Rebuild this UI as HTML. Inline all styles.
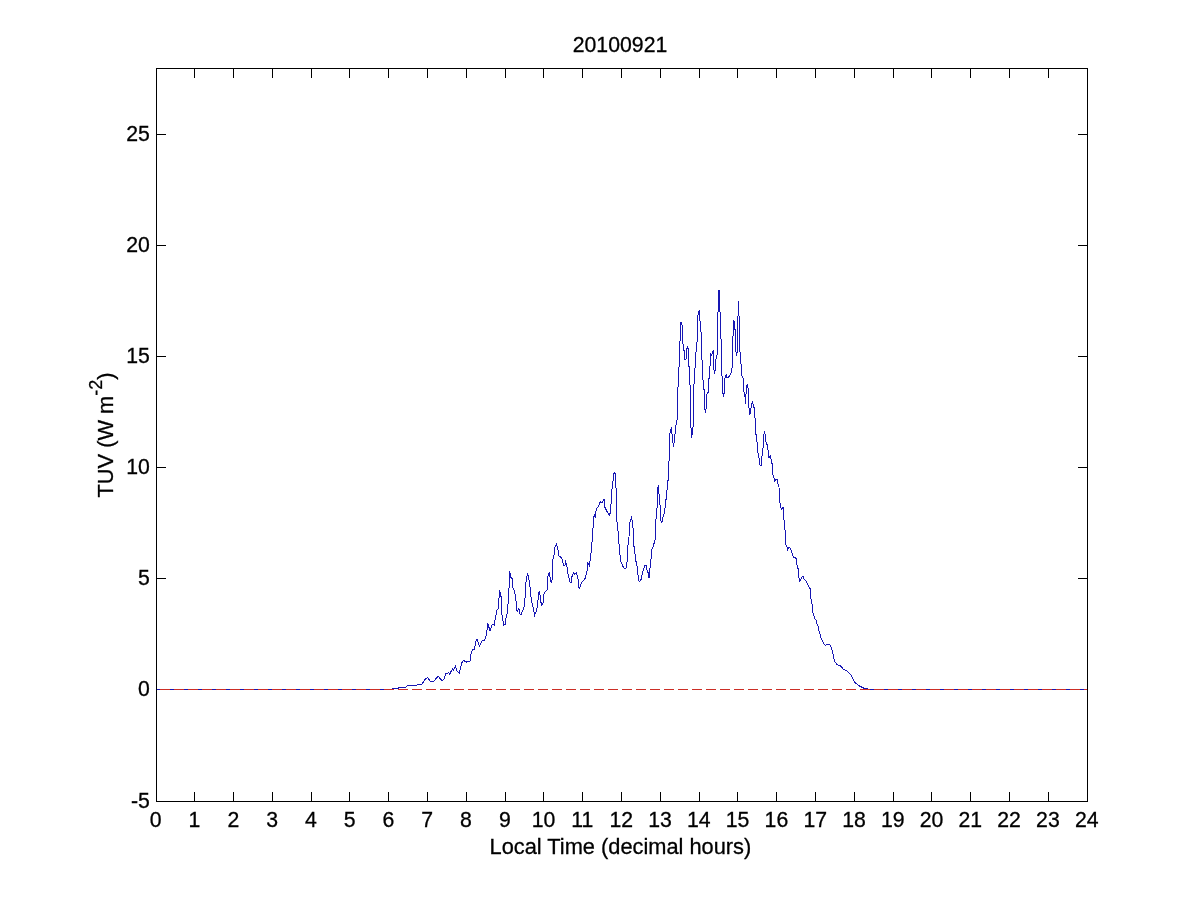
<!DOCTYPE html>
<html><head><meta charset="utf-8"><title>20100921</title>
<style>
html,body{margin:0;padding:0;background:#fff;}
svg{display:block;}
text{font-family:"Liberation Sans",Arial,Helvetica,sans-serif;font-size:21.8px;fill:#000;stroke:#000;stroke-width:0.3px;}
</style></head><body>
<svg width="1201" height="900" viewBox="0 0 1201 900">
<rect width="1201" height="900" fill="#fff"/>
<g fill="none" stroke="#000" stroke-width="1" shape-rendering="crispEdges">
<rect x="156.5" y="68.5" width="931.0" height="733.0"/>
<path d="M194.5 802V792M194.5 68V78M233.5 802V792M233.5 68V78M272.5 802V792M272.5 68V78M311.5 802V792M311.5 68V78M349.5 802V792M349.5 68V78M388.5 802V792M388.5 68V78M427.5 802V792M427.5 68V78M466.5 802V792M466.5 68V78M505.5 802V792M505.5 68V78M543.5 802V792M543.5 68V78M582.5 802V792M582.5 68V78M621.5 802V792M621.5 68V78M660.5 802V792M660.5 68V78M699.5 802V792M699.5 68V78M737.5 802V792M737.5 68V78M776.5 802V792M776.5 68V78M815.5 802V792M815.5 68V78M854.5 802V792M854.5 68V78M893.5 802V792M893.5 68V78M931.5 802V792M931.5 68V78M970.5 802V792M970.5 68V78M1009.5 802V792M1009.5 68V78M1048.5 802V792M1048.5 68V78M156 689.5H166M1088 689.5H1078M156 578.5H166M1088 578.5H1078M156 467.5H166M1088 467.5H1078M156 356.5H166M1088 356.5H1078M156 245.5H166M1088 245.5H1078M156 134.5H166M1088 134.5H1078"/>
</g>
<g fill="none" stroke="#1616b4" stroke-width="1" shape-rendering="crispEdges" stroke-linejoin="miter">
<path d="M157 689.5H392M868 689.5H1087"/>
<path d="M392 689.5 L392.5 688.5 L398 688.5 L398.75 687.5 L405.5 687.5 L407.5 685.5 L416.25 685.5 L417.5 684.5 L421.7 684.5 L424.6 680 L427.5 677.3 L430.4 681.25 L433.3 681.5 L438.3 676.25 L441.7 680.4 L443.75 679.6 L445.8 673.75 L448.75 672.7 L449.6 674.2 L452.5 668.75 L453.3 670 L455.4 666.25 L456.7 670.8 L459.2 672.9 L462.1 662.1 L463.3 660.4 L466.7 662.1 L470 661.25 L471.25 652.5 L472.5 649.6 L474.2 649.6 L476.25 639.6 L477.1 639.6 L479.6 646.25 L482.3 640 L484 641 L485.5 638.5 L486.7 633 L487.9 623.3 L490 631.25 L492.1 624.6 L494.2 625 L496.7 610.8 L498.3 608.3 L499.6 590.4 L501.25 597.5 L501.7 613.3 L503.75 625 L505.4 624.6 L505.8 619.2 L507.5 612.5 L508.3 599.2 L509.2 585 L509.8 571.25 L510.8 577.5 L512.5 579.2 L512.9 587.5 L514.6 591.7 L516.7 605 L517.1 612 L518.75 608.3 L520 614.2 L521.25 614.2 L524.6 605.8 L525.8 583.3 L527.5 573.3 L529.2 580.4 L530.4 590.4 L531.25 599.2 L532.9 606.7 L534.6 615.4 L536.7 610 L537.9 601.25 L538.75 592.5 L539.6 591.7 L540.8 601.7 L541.7 605 L543.3 602.9 L543.75 594.2 L545.4 591.25 L547.5 589.6 L547.9 576.7 L549.2 572.5 L551.25 583 L552.5 577.5 L552.9 559.2 L554.6 553.3 L555 546.7 L556.4 544.3 L557.5 546.7 L558.75 555.8 L561.7 557.9 L563.75 565.4 L565 565.4 L565.4 561.25 L566.7 564.2 L567.9 573.3 L570 582.1 L571.25 582.1 L572.1 575.8 L573.75 572.5 L574.6 574.2 L576.25 572.5 L577.9 577.5 L578.75 587.5 L579.6 588.75 L580.4 585 L581.7 582.1 L585.4 578.3 L587.5 568.3 L587.9 562.5 L589.2 565.4 L589.6 561.7 L590.4 560.8 L590.8 553.3 L591.7 551.7 L592.1 540 L592.9 532.5 L593.3 517.5 L594.6 514.6 L595.4 518.3 L596.25 508.3 L597.9 507.5 L600.4 501.7 L602.1 502.5 L603.75 499.2 L604.6 500 L605 507.5 L607.1 511.7 L609.2 515.4 L610.4 512.5 L610.8 507.5 L611.7 491.7 L612.9 482.5 L613.75 473.75 L614.6 472.5 L615.7 473.75 L615.8 487.5 L616.7 488.75 L616.9 520 L617.5 529.2 L618.3 531.7 L618.75 541.7 L619.6 550 L620.4 560.4 L621.7 563.75 L623.75 567.9 L625 568.75 L626.4 567.5 L627.1 560.8 L627.5 546.7 L628.5 543.3 L629 536.7 L629.6 523.3 L630.4 520.8 L631.5 517.5 L632.1 520 L632.7 527.5 L633.5 529.2 L633.75 545.8 L634.6 548.3 L635.4 558.3 L636.7 565 L637.5 568.3 L638.3 578.3 L639.2 581.7 L641.25 579.2 L642.5 572.5 L645 565.4 L646.25 565.4 L646.7 569.2 L648.3 573.3 L648.75 577.5 L649.6 577.5 L649.8 569.2 L650.8 562.5 L651.5 550.8 L653.3 545.8 L655.4 539.2 L655.8 521.7 L656.7 508.3 L657.5 507.5 L657.7 488.3 L658.5 485 L658.75 493.3 L659.6 495 L660 505 L660.8 506.7 L661 520.8 L661.7 522.5 L662.5 521.7 L662.9 517.5 L664.6 511.7 L665.8 500 L666.7 498.3 L667.1 488.3 L667.9 480.8 L668.75 480 L668.9 461.7 L669.2 460 L669.6 435.4 L670.4 430 L671.25 428.3 L672.1 435 L673.5 446.7 L674.6 438.3 L675.8 425.8 L677.1 419.6 L677.5 395 L678.75 375.8 L679.8 341 L680.6 340.4 L680.6 322.3 L681.6 322.3 L682.1 325.8 L682.5 343.3 L683.5 344.6 L684.2 352.5 L684.5 359.5 L685.5 359.5 L686.5 358 L686.5 349.2 L687.5 347.3 L688.5 349.6 L688.5 365.8 L689.6 367.5 L689.75 384.6 L690.8 385.8 L690.8 423.3 L691.4 437.5 L692.5 433 L693.5 420.8 L693.5 384.2 L694.6 383.3 L694.8 371.7 L695.8 355 L696.7 342.1 L697.5 341.25 L697.7 316.25 L698.75 311.25 L699.6 310.2 L699.75 320.8 L700.8 322.5 L701 332.1 L701.6 332.9 L701.6 359.6 L702.5 360.8 L702.9 380 L703.5 381.7 L703.5 389 L704.5 389.5 L704.5 409 L705.5 410 L705.5 412.5 L705.5 409.5 L706.5 408.5 L706.5 394.5 L707.5 393.5 L708.5 391.7 L708.5 379.2 L709.5 378 L709.5 366.5 L710.5 365.5 L710.5 353.75 L711.5 355 L712.5 352.5 L713.5 350.2 L713.5 369.5 L714.5 370.5 L714.5 373.5 L714.5 370.5 L715.5 370 L715.5 359.6 L716.5 358.5 L716.5 355.5 L717.5 354.5 L717.5 312.5 L718.4 311.7 L718.4 290.3 L719.8 290.3 L719.9 312.1 L720.7 313.3 L720.8 338.75 L721.8 340 L721.9 374.2 L722.5 381.7 L722.5 393 L723.5 393.5 L723.5 396.7 L723.5 394 L724.5 393.5 L724.5 379.2 L725.8 375.8 L726.7 375 L726.7 377.5 L728.3 377.5 L730.8 374.2 L731.7 368.3 L732.5 366.7 L732.6 336.7 L733.3 335.4 L733.5 320.4 L734.6 322.5 L734.8 329.2 L735.8 330 L735.8 351.7 L736.7 354.5 L737.5 351 L737.5 316.25 L738.3 315.8 L738.5 301.25 L738.7 315.8 L739.6 316.25 L739.6 351.7 L740.6 352.5 L740.8 363.3 L741.7 365 L741.8 375.8 L742.9 377.5 L743.3 379.2 L744.2 395 L745 397.1 L745 404.4 L745.8 400.8 L746.25 386.7 L747.3 385 L748.3 389.2 L748.7 407.5 L749.6 409.4 L749.8 413.75 L750.6 413 L751.25 405.8 L752.5 401.25 L753.75 407 L754.6 408.75 L754.8 417.5 L755.6 418.75 L755.8 434.2 L756.7 435.8 L757.5 451.7 L758.75 455 L759.6 464.2 L760.4 465.4 L761.5 465.4 L761.7 456.7 L762.3 455.4 L762.7 448.3 L763.5 447.1 L763.75 435 L764.6 431.25 L765.4 435.8 L765.8 441.25 L767.5 445.8 L768.75 457.1 L769.8 457.1 L770.4 455.4 L770.7 458.75 L771.5 459.6 L772.1 464.2 L772.6 468 L772.7 474.6 L773.75 476.7 L774.6 480.8 L775.4 480 L776.25 479.6 L777.1 479.6 L777.7 483.75 L778.75 485 L779.2 489.2 L779.6 502.5 L780.4 504.2 L781.25 509.2 L782.5 507.9 L783.5 507.9 L783.75 519.6 L784.6 520.8 L785 530 L785.6 530.8 L785.6 543.75 L786.7 546.25 L787.7 549.6 L788.75 547.5 L790 547.9 L791.8 551.7 L792.5 555.4 L793.75 557.1 L795.4 557.9 L796.7 559.2 L796.8 564.2 L797.9 568.3 L798.75 570 L798.9 577.9 L799.6 581.25 L800.8 579.6 L801.7 577.1 L803.3 576.25 L803.75 578.75 L805.8 580.8 L807.5 583.75 L809.2 587.1 L810.6 589.6 L810.6 598.3 L811.7 600.8 L812.1 605 L812.7 606.7 L812.9 612.5 L814.6 618.3 L816.25 620.4 L816.8 623.75 L818.3 626.7 L819.2 631.7 L820.4 635.4 L821.25 638.75 L823.3 642.9 L825.4 645.4 L827.5 644.4 L829.6 644.4 L830.8 646.7 L832.5 651.7 L833.75 658.3 L835 661.7 L837.5 665 L840 665.4 L843.75 669.6 L846.7 670.8 L850.8 674.6 L852.5 678.3 L855 682.5 L858.3 685.4 L861.7 687.1 L864.2 688.4 L867.5 688.4 L868.3 689.5"/>
</g>
<path d="M160 689.5H1087" fill="none" stroke="#cc2e26" stroke-width="1" stroke-dasharray="10 4" shape-rendering="crispEdges"/>
<g><text transform="translate(155.7 826.9) scale(.975 1.035)" text-anchor="middle">0</text><text transform="translate(194.5 826.9) scale(.975 1.035)" text-anchor="middle">1</text><text transform="translate(233.3 826.9) scale(.975 1.035)" text-anchor="middle">2</text><text transform="translate(272.1 826.9) scale(.975 1.035)" text-anchor="middle">3</text><text transform="translate(310.9 826.9) scale(.975 1.035)" text-anchor="middle">4</text><text transform="translate(349.7 826.9) scale(.975 1.035)" text-anchor="middle">5</text><text transform="translate(388.4 826.9) scale(.975 1.035)" text-anchor="middle">6</text><text transform="translate(427.2 826.9) scale(.975 1.035)" text-anchor="middle">7</text><text transform="translate(466.0 826.9) scale(.975 1.035)" text-anchor="middle">8</text><text transform="translate(504.8 826.9) scale(.975 1.035)" text-anchor="middle">9</text><text transform="translate(543.6 826.9) scale(.975 1.035)" text-anchor="middle">10</text><text transform="translate(582.4 826.9) scale(.975 1.035)" text-anchor="middle">11</text><text transform="translate(621.2 826.9) scale(.975 1.035)" text-anchor="middle">12</text><text transform="translate(660.0 826.9) scale(.975 1.035)" text-anchor="middle">13</text><text transform="translate(698.8 826.9) scale(.975 1.035)" text-anchor="middle">14</text><text transform="translate(737.6 826.9) scale(.975 1.035)" text-anchor="middle">15</text><text transform="translate(776.4 826.9) scale(.975 1.035)" text-anchor="middle">16</text><text transform="translate(815.2 826.9) scale(.975 1.035)" text-anchor="middle">17</text><text transform="translate(854.0 826.9) scale(.975 1.035)" text-anchor="middle">18</text><text transform="translate(892.7 826.9) scale(.975 1.035)" text-anchor="middle">19</text><text transform="translate(931.5 826.9) scale(.975 1.035)" text-anchor="middle">20</text><text transform="translate(970.3 826.9) scale(.975 1.035)" text-anchor="middle">21</text><text transform="translate(1009.1 826.9) scale(.975 1.035)" text-anchor="middle">22</text><text transform="translate(1047.9 826.9) scale(.975 1.035)" text-anchor="middle">23</text><text transform="translate(1086.7 826.9) scale(.975 1.035)" text-anchor="middle">24</text></g>
<g><text transform="translate(149.8 808.4) scale(.975 1.035)" text-anchor="end">-5</text><text transform="translate(149.8 696.4) scale(.975 1.035)" text-anchor="end">0</text><text transform="translate(149.8 585.4) scale(.975 1.035)" text-anchor="end">5</text><text transform="translate(149.8 474.4) scale(.975 1.035)" text-anchor="end">10</text><text transform="translate(149.8 363.4) scale(.975 1.035)" text-anchor="end">15</text><text transform="translate(149.8 252.4) scale(.975 1.035)" text-anchor="end">20</text><text transform="translate(149.8 141.4) scale(.975 1.035)" text-anchor="end">25</text></g>
<text transform="translate(620 52.2) scale(.975 1.035)" text-anchor="middle">20100921</text>
<text x="620.4" y="854" text-anchor="middle">Local Time (decimal hours)</text>
<text transform="translate(113,435) rotate(-90)" text-anchor="middle">TUV (W m<tspan dy="-11" font-size="18px">-2</tspan><tspan dy="11">)</tspan></text>
</svg>
</body></html>
